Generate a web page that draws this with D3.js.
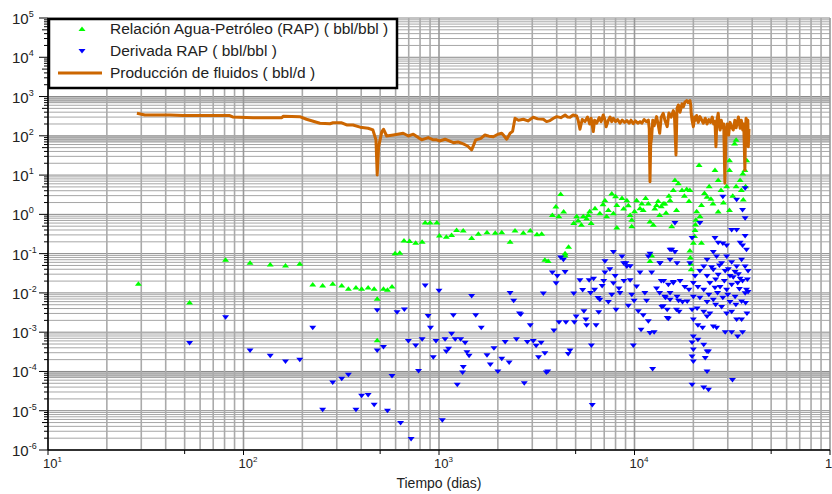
<!DOCTYPE html>
<meta charset="utf-8">
<script src="https://d3js.org/d3.v7.min.js"></script>
<style>
  body { margin: 0; background: #fff; }
  text { font-family: "Liberation Sans", Arial, sans-serif; }
</style>
<div id="chart"></div>
<script>
// ---- data: [tiempo (dias), valor] ----
var prodData = [[28.5,376],[31.3,340],[42,340],[49,327],[85,327],[88,302],[112,290],[157,290],[160,315],[194,308],
  [210,264],[246,209],[277,203],[287,215],[318,215],[337,189],[363,189],[395,166],[434,156],[459,141],[476,79],
  [483,10.1],[491,53],[510,128],[520,147],[540,99],[584,105],[656,116],[697,99],[739,110],[815,79],[881,90],
  [935,79],[973,79],[1005,74],[1074,82],[1120,75],[1184,67],[1250,70],[1331,62],[1400,55],[1469,44],[1541,79],
  [1630,85],[1718,105],[1800,98],[1897,95],[2000,110],[2094,116],[2150,100],[2220,82],[2310,116],[2380,130],
  [2448,280],[2550,250],[2700,264],[2850,240],[3035,297],[3200,270],[3417,264],[3550,230],[3696,244],[3850,280],
  [4000,308],[4200,290],[4415,340],[4550,300],[4680,297],[4850,340],[5060,320],[5150,250],[5260,147],[5400,260],
  [5580,230],[5750,300],[5900,200],[6000,280],[6155,128],[6250,250],[6400,209],[6600,290],[6750,230],[6920,340],
  [7050,260],[7160,171],[7350,250],[7500,300],[7650,230],[7800,280],[8000,230],[8200,260],[8430,209],[8650,250],
  [8900,220],[9140,244],[9400,210],[9600,250],[9860,203],[10100,240],[10400,210],[10670,230],[10900,210],[11200,260],
  [11500,230],[11770,252],[11900,150],[12000,6.8],[12100,60],[12240,95],[12400,250],[12600,180],[12970,308],
  [13200,200],[13450,116],[13700,300],[14030,376],[14300,250],[14700,171],[15000,380],[15400,300],[15800,438],
  [16000,350],[16300,32.7],[16500,500],[16760,611],[17100,400],[17500,650],[17800,550],[18100,720],[18500,787],
  [18800,700],[19230,787],[19400,600],[19500,376],[19700,250],[20000,171],[20300,300],[20500,250],[20800,330],
  [21200,220],[21630,308],[22000,260],[22500,209],[23000,280],[23500,200],[24000,260],[24500,220],[25000,300],
  [25400,200],[25800,230],[26100,53],[26400,250],[26800,376],[27100,200],[27400,141],[27800,250],[28200,160],
  [28600,200],[29000,6.2],[29400,130],[29800,200],[30300,105],[30800,220],[31500,160],[32000,141],[32600,250],
  [33100,160],[33500,209],[34000,300],[34700,156],[35200,250],[35800,141],[36200,200],[36700,13.5],[37000,150],
  [37200,280],[37600,200],[38000,250],[38200,53],[38500,150]];

var rapData = [[29,0.017],[53,0.0057],[81,0.0695],[108,0.059],[137,0.053],[164,0.050],[194,0.055],[226,0.0164],
  [254,0.0154],[286,0.017],[318,0.0154],[344,0.0127],[376,0.0137],[402,0.0127],[434,0.0137],[466,0.0127],
  [483,0.0071],[483,0.00062],[520,0.0127],[545,0.012],[575,0.0145],[596,0.103],[630,0.106],[662,0.215],[707,0.21],
  [760,0.19],[820,0.2],[850,0.62],[900,0.62],[975,0.62],[1005,0.29],[1090,0.27],[1160,0.30],[1230,0.40],[1330,0.39],
  [1469,0.25],[1590,0.32],[1760,0.35],[1940,0.34],[2094,0.35],[2310,0.2],[2448,0.39],[2700,0.34],[2930,0.39],
  [3170,0.31],[3350,0.32],[3480,0.07],[3620,0.065],[3800,0.97],[3960,1.58],[4100,0.89],[4190,3.3],[4340,1.18],
  [4415,0.103],[4415,0.09],[4600,0.15],[4890,0.6],[5060,0.89],[5150,0.7],[5350,0.54],[5470,0.89],[5690,0.78],
  [5800,0.97],[5900,1.2],[6000,0.6],[6280,1.43],[6650,1.07],[6900,1.8],[7060,2.3],[7200,0.9],[7350,1.3],[7650,3.4],
  [7800,1.07],[8000,2.9],[8120,1.74],[8120,0.46],[8630,2.6],[8800,1.4],[9140,2.3],[9300,1.7],[9500,0.97],[9680,0.73],
  [9680,0.50],[10000,1.2],[10250,2.3],[10670,1.43],[10900,1.9],[11080,1.3],[11400,2.6],[11770,1.9],[12000,0.66],
  [12000,0.065],[12240,0.09],[12480,0.54],[12700,1.4],[12970,1.74],[13200,2.2],[13450,0.97],[13700,1.6],[14030,1.9],
  [14300,1.9],[14500,1.1],[15000,3.0],[15200,2.3],[15500,0.5],[15800,4.2],[16100,7.5],[16400,1.3],[16760,6.2],
  [17500,4.2],[18500,4.4],[19200,4.2],[19200,0.12],[19300,0.08],[19400,0.055],[19500,0.04],[20000,0.19],[20300,0.28],
  [20400,0.4],[20500,0.55],[20600,0.73],[21400,18],[21630,0.89],[22000,1.74],[22000,0.19],[23500,2.8],[24100,5.2],
  [25200,1.9],[25800,13.5],[26800,7.5],[26800,1.18],[27700,4.2],[29600,5.2],[30600,13.5],[30600,24],[30600,1.3],
  [32500,64],[33100,79],[33100,5.2],[34700,7.5],[35200,4.2],[35800,11],[36700,13.5],[37000,5.2],[37500,24],
  [18000,3.0],[19000,2.2],[20800,1.2],[22800,3.5],[24600,2.5],[28500,2.0],[31800,3.0],[36000,2.4]];

var derivData = [[53,0.00053],[81,0.0024],[108,0.00034],[137,0.00025],[164,0.00018],[194,0.0002],[226,0.0013],
  [254,1.06e-5],[286,5.2e-5],[318,6.5e-5],[344,8.2e-5],[376,1.06e-5],[402,2.4e-5],[434,2.5e-5],[466,1.42e-5],
  [483,0.0036],[483,0.00034],[520,0.00042],[545,1.0e-5],[575,7.7e-5],[610,0.0032],[636,4.9e-6],[665,0.0038],
  [697,0.0006],[720,1.9e-6],[760,0.00046],[786,0.000103],[820,0.00066],[850,0.0154],[880,0.0026],[905,0.0013],
  [935,0.00023],[965,0.0006],[1000,0.0114],[1040,5.7e-6],[1074,0.00066],[1090,0.00032],[1120,0.00038],[1160,0.00091],
  [1184,0.0027],[1210,0.00066],[1240,4.6e-5],[1290,0.00066],[1320,9.4e-5],[1331,0.00013],[1360,0.00054],[1390,0.00031],
  [1425,0.00025],[1469,0.0083],[1541,0.0027],[1645,0.0013],[1760,0.00026],[1830,0.00015],[1910,0.00039],[2000,0.0001],
  [2094,0.00021],[2180,0.00056],[2285,0.00017],[2310,0.01],[2410,0.0063],[2490,0.00066],[2580,0.003],[2620,0.0028],
  [2730,5e-5],[2830,0.00056],[2930,0.0015],[3035,0.0006],[3140,0.00045],[3230,0.00023],[3330,0.00054],[3417,0.0096],
  [3480,0.00029],[3540,9.4e-5],[3600,0.0001],[3800,0.033],[3870,0.0011],[3970,0.0177],[4030,0.027],[4110,0.0018],
  [4190,0.08],[4330,0.07],[4415,0.034],[4460,0.0018],[4580,0.00028],[4680,0.00034],[4890,0.0096],[4925,0.0018],
  [5030,0.0025],[5260,0.021],[5430,0.0118],[5510,0.0034],[5640,0.0021],[5690,0.0015],[5860,0.021],[5960,0.0099],
  [6020,0.00046],[6080,1.4e-5],[6175,0.023],[6250,0.012],[6360,0.0015],[6510,0.0074],[6560,0.0032],[6650,0.0067],
  [6830,0.015],[6960,0.02],[7060,0.033],[7060,0.064],[7350,0.0059],[7480,0.04],[7650,0.009],[7800,0.0177],[7800,0.11],
  [7960,0.027],[8050,0.0037],[8330,0.013],[8430,0.0099],[8630,0.085],[8800,0.057],[8830,0.02],[9040,0.057],[9140,0.047],
  [9300,0.0047],[9500,0.021],[9500,0.048],[9680,0.009],[9860,0.00046],[9950,0.0063],[10250,0.0146],[10460,0.0034],
  [10670,0.033],[10800,0.00115],[11080,0.0027],[11300,0.0099],[11530,0.0063],[11770,0.0019],[11770,0.085],
  [12000,0.00095],[12000,0.1],[12240,0.033],[12380,0.000115],[12600,0.001],[12970,0.013],[13450,0.0099],[13500,0.057],
  [13700,0.02],[14030,0.0046],[14400,0.0075],[14700,0.0023],[15200,0.01],[15200,0.125],[15800,0.019],[16400,0.0037],
  [16800,0.0063],
  [16100,0.6],[19700,0.25],[21600,0.6],[25800,0.25],[28300,2.8],[31400,0.4],[33300,2.34],[33300,0.4],[35700,1.3],
  [36800,4.6],[36800,0.8],[36800,0.28],[15500,0.125],[16100,0.11],[26800,0.19],[28300,0.18],[29600,0.16],[34700,0.19],
  [35700,0.16],[37400,0.125],[13500,0.057],[15200,0.07],[16500,0.057],[19200,0.057],[23500,0.07],[25300,0.11],
  [26300,0.085],[27900,0.057],[29600,0.085],[31400,0.06],[33300,0.047],[35300,0.07],[36800,0.047],[38100,0.036],
  [22600,0.047],[25300,0.039],[26800,0.029],[29100,0.036],[30800,0.027],[32700,0.034],[34700,0.023],[20400,0.027],
  [21600,0.036],[23500,0.027],[14100,0.02],[14900,0.0161],[15800,0.018],[17100,0.02],[18100,0.0142],[19000,0.012],
  [20000,0.018],[21100,0.0142],[22600,0.012],[24300,0.018],[25800,0.0135],[27400,0.0142],[29600,0.012],[31400,0.0161],
  [33700,0.018],[35700,0.02],[37400,0.012],[14300,0.008],[15200,0.0067],[16500,0.008],[17600,0.0059],[18600,0.006],
  [20000,0.008],[21600,0.0075],[23500,0.0059],[25300,0.0067],[28300,0.0075],[30800,0.0059],[32700,0.008],[35300,0.006],
  [36800,0.0098],[38100,0.0105],[13800,0.0044],[14700,0.0037],[16900,0.0033],[19700,0.0037],[20900,0.004],
  [22600,0.0033],[23500,0.0025],[24300,0.003],[27900,0.0044],[29600,0.003],[31400,0.0033],[33300,0.0021],[35300,0.0021],
  [14900,0.0022],[20000,0.0021],[21100,0.0015],[22300,0.0013],[25300,0.0014],[26300,0.0013],[29100,0.001],[31400,0.001],
  [35700,0.001],[33700,0.00078],[20000,0.00078],[19700,0.00055],[21100,0.00064],[22600,0.00048],[23500,0.00032],
  [20000,0.00036],[19700,0.00024],[20000,0.00018],[23000,0.00022],[23900,0.00032],[23500,0.0001],[19700,4.6e-5],
  [22600,3.9e-5],[23900,3.4e-5],[31700,6.1e-5],
  [24800,0.045],[27200,0.05],[30200,0.04],[34000,0.03],[26000,0.022],[28800,0.02],[32000,0.025],[37800,0.022],
  [24000,0.009],[26600,0.01],[30000,0.009],[34400,0.0125],[37000,0.0055],[26000,0.005],[33000,0.005],[37600,0.003]];

var xDecades = [1, 2, 3, 4, 5];
var yDecades = [-6, -5, -4, -3, -2, -1, 0, 1, 2, 3, 4, 5];
var bandDecades = [3, 2, -4];
var legendLabels = ["Relación Agua-Petróleo (RAP) ( bbl/bbl )", "Derivada RAP ( bbl/bbl )", "Producción de fluidos ( bbl/d )"];
var xTitle = "Tiempo (dias)";

// ---- layout ----
var margin = {top: 18, right: 2, bottom: 44, left: 48},
    width = 832 - margin.left - margin.right,
    height = 494 - margin.top - margin.bottom;

var svg = d3.select("#chart").append("svg")
    .attr("width", 832)
    .attr("height", 494)
  .append("g")
    .attr("transform", "translate(" + margin.left + "," + margin.top + ")");

var x = d3.scaleLog().domain([10, 1e5]).range([0, width]);
var y = d3.scaleLog().domain([1e-6, 1e5]).range([height, 0]);

// minor + major tick values
function logTicks(decs) {
  var out = [];
  decs.forEach(function(e, i) {
    if (i == decs.length - 1) { out.push({v: Math.pow(10, e), m: 1, k: 1}); return; }
    for (var k = 1; k < 10; k++) out.push({v: k * Math.pow(10, e), m: k == 1 ? 1 : 0, k: k});
  });
  return out;
}
var xt = logTicks(xDecades), yt = logTicks(yDecades);

svg.append("defs").append("clipPath").attr("id", "clip")
  .append("rect").attr("width", width).attr("height", height);

// grey bands
svg.selectAll(".band").data(bandDecades).enter().append("rect")
  .attr("x", 0).attr("width", width)
  .attr("y", function(d) { return y(Math.pow(10, d)); })
  .attr("height", function(d) { return y(0.68 * Math.pow(10, d)) - y(Math.pow(10, d)); })
  .attr("fill", "#c4c4c4");

// grid
svg.append("g").selectAll("line").data(yt).enter().append("line")
  .attr("x1", 0).attr("x2", width)
  .attr("y1", function(d) { return y(d.v); }).attr("y2", function(d) { return y(d.v); })
  .attr("stroke", function(d) { return d.m ? "#888" : "#a6a6a6"; })
  .attr("stroke-width", 1);

svg.append("g").selectAll("line").data(xt).enter().append("line")
  .attr("y1", 0).attr("y2", height)
  .attr("x1", function(d) { return x(d.v); }).attr("x2", function(d) { return x(d.v); })
  .attr("stroke", function(d) { return d.m ? "#999" : "#aaa"; })
  .attr("stroke-width", 1.6);

// marks
var plot = svg.append("g").attr("clip-path", "url(#clip)");

var tri = {
  up: "M-3.5,2L3.5,2L0,-2.5Z",
  down: "M-3.5,-2L3.5,-2L0,2.5Z"
};

plot.selectAll(".rap").data(rapData).enter().append("path")
  .attr("d", tri.up)
  .attr("transform", function(d) { return "translate(" + x(d[0]) + "," + y(d[1]) + ")"; })
  .attr("fill", "#00ff00");

plot.selectAll(".der").data(derivData).enter().append("path")
  .attr("d", tri.down)
  .attr("transform", function(d) { return "translate(" + x(d[0]) + "," + y(d[1]) + ")"; })
  .attr("fill", "#0000ff");

var line = d3.line().x(function(d) { return x(d[0]); }).y(function(d) { return y(d[1]); });
plot.append("path").datum(prodData)
  .attr("d", line)
  .attr("fill", "none")
  .attr("stroke", "#cc6600")
  .attr("stroke-width", 3)
  .attr("stroke-linejoin", "round");

// axes
svg.append("line").attr("x1", 0).attr("x2", 0).attr("y1", 0).attr("y2", height)
  .attr("stroke", "#000").attr("stroke-width", 1.5);
svg.append("line").attr("x1", 0).attr("x2", width).attr("y1", height).attr("y2", height)
  .attr("stroke", "#000").attr("stroke-width", 1.5);

svg.append("g").selectAll("line").data(yt).enter().append("line")
  .attr("x1", function(d) { return d.m ? -9 : (d.k == 5 ? -6 : -4); }).attr("x2", 0)
  .attr("y1", function(d) { return y(d.v); }).attr("y2", function(d) { return y(d.v); })
  .attr("stroke", "#000");

svg.append("g").selectAll("line").data(xt.filter(function(d) { return d.m || d.k == 5; })).enter().append("line")
  .attr("y1", height).attr("y2", function(d) { return height + (d.m ? 5 : 4); })
  .attr("x1", function(d) { return x(d.v); }).attr("x2", function(d) { return x(d.v); })
  .attr("stroke", "#000");

// tick labels
var yl = svg.append("g").selectAll("text").data(yDecades).enter().append("text")
  .attr("x", -36).attr("y", function(d) { return y(Math.pow(10, d)) + 6; })
  .style("font-size", "15px").attr("fill", "#222")
  .text("10");
yl.append("tspan").attr("dy", -7).style("font-size", "9px").text(function(d) { return d; });

var xl = svg.append("g").selectAll("text").data(xDecades).enter().append("text")
  .attr("x", function(d) { return x(Math.pow(10, d)) - 5; }).attr("y", height + 18)
  .style("font-size", "13px").attr("fill", "#222")
  .text("10");
xl.append("tspan").attr("dy", -6).style("font-size", "8px").text(function(d) { return d; });

svg.append("text")
  .attr("x", x(1000)).attr("y", height + 38)
  .attr("text-anchor", "middle")
  .style("font-size", "14px").attr("fill", "#222")
  .text(xTitle);

// legend
var lg = svg.append("g");
lg.append("rect").attr("x", 1).attr("y", 1).attr("width", 348).attr("height", 69)
  .attr("fill", "#fff").attr("stroke", "#000").attr("stroke-width", 2.5);

var items = lg.selectAll(".item").data(legendLabels).enter().append("g")
  .attr("transform", function(d, i) { return "translate(0," + (11 + i * 22) + ")"; });
items.append("text").attr("x", 62).attr("y", 5)
  .style("font-size", "15.5px").attr("fill", "#222")
  .text(function(d) { return d; });
items.filter(function(d, i) { return i == 0; }).append("path")
  .attr("d", tri.up).attr("transform", "translate(34,0)").attr("fill", "#00ff00");
items.filter(function(d, i) { return i == 1; }).append("path")
  .attr("d", tri.down).attr("transform", "translate(34,0)").attr("fill", "#0000ff");
items.filter(function(d, i) { return i == 2; }).append("line")
  .attr("x1", 10).attr("x2", 54).attr("y1", 0).attr("y2", 0)
  .attr("stroke", "#cc6600").attr("stroke-width", 3);
</script>
